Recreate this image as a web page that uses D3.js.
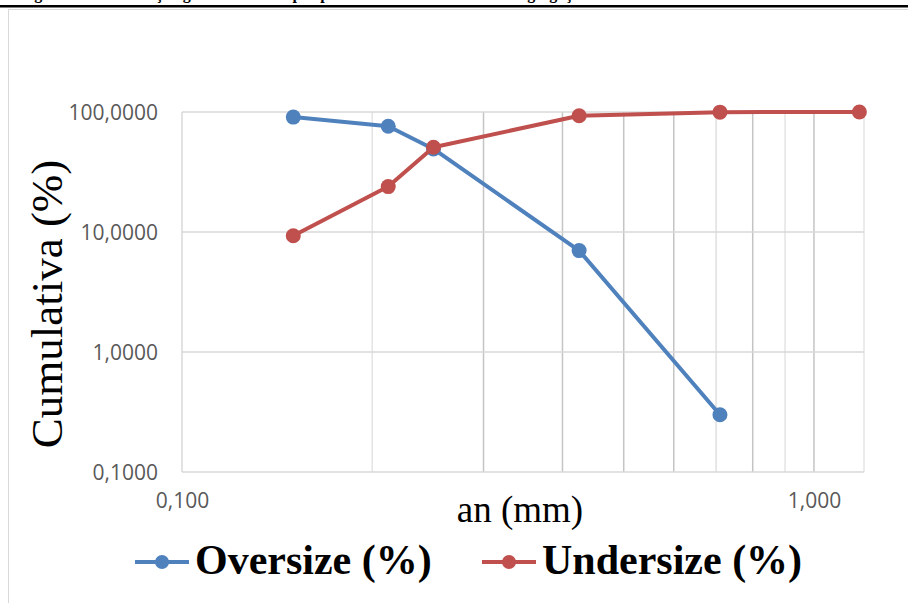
<!DOCTYPE html>
<html>
<head>
<meta charset="utf-8">
<style>
  html, body { margin: 0; padding: 0; background: #fff; }
  svg { display: block; }
  .tick text { font-family: "Open Sans", sans-serif; font-size: 21px; fill: #595959; }
</style>
</head>
<body>
<div id="chart"></div>
<script src="https://cdn.jsdelivr.net/npm/d3@7/dist/d3.min.js"></script>
<script type="text/javascript">

    // sieve openings (mm)
    var sieves = [0.150, 0.212, 0.250, 0.425, 0.710, 1.180];
    // cumulative passing / retained (%)
    var oversize = [90.7, 76.1, 49.2, 7.0, 0.3];
    var undersize = [9.3, 23.9, 50.8, 93.0, 99.7, 100.0];
    var yTicks = [0.1, 1, 10, 100];
    var xTicks = [0.1, 1];
    var xMinor = [0.2, 0.3, 0.4, 0.5, 0.6, 0.7, 0.8, 0.9];
    var seriesNames = ["Oversize (%)", "Undersize (%)"];
    var colors = ["#4f81bd", "#c0504d"];

    var W = 908, H = 603;
    var plot = {left: 182, right: 864, top: 112, bottom: 472};

    var svg = d3.select("#chart").append("svg")
        .attr("width", W)
        .attr("height", H);

    // caption of the page above, mostly cut off
    svg.append("text")
        .attr("x", 20)
        .attr("y", -1)
        .style("font-family", "Liberation Serif, serif")
        .style("font-weight", "bold")
        .style("font-size", "16px")
        .text("Figura 5 – Distribuição granulométrica por peneiramento da amostra de agregação");

    svg.append("line")
        .attr("x1", 0).attr("x2", W)
        .attr("y1", 6.2).attr("y2", 6.2)
        .attr("stroke", "#000").attr("stroke-width", 2.4);

    // chart frame
    svg.append("rect")
        .attr("x", 8.5).attr("y", 9.5)
        .attr("width", 1000).attr("height", 700)
        .attr("fill", "none").attr("stroke", "#d9d9d9").attr("stroke-width", 1);

    var x = d3.scaleLog().domain([0.1, 1.2]).range([plot.left, plot.right]);
    var y = d3.scaleLog().domain([0.1, 100]).range([plot.bottom, plot.top]);

    // vertical grid
    var gridColor = {0.2: "#e4e4e4", 0.7: "#e0e0e0", 0.9: "#e4e4e4"};
    svg.append("g").selectAll("line")
        .data(xMinor.concat([1]))
        .enter().append("line")
        .attr("x1", function(d) { return x(d); })
        .attr("x2", function(d) { return x(d); })
        .attr("y1", plot.top).attr("y2", plot.bottom)
        .attr("stroke", function(d) { return gridColor[d] || "#c4c4c4"; })
        .attr("stroke-width", 1.5);

    svg.append("line")
        .attr("x1", plot.right).attr("x2", plot.right)
        .attr("y1", plot.top).attr("y2", plot.bottom)
        .attr("stroke", "#e4e4e4").attr("stroke-width", 1.5);

    // horizontal grid
    svg.append("g").selectAll("line")
        .data(yTicks)
        .enter().append("line")
        .attr("x1", plot.left).attr("x2", plot.right)
        .attr("y1", function(d) { return y(d); })
        .attr("y2", function(d) { return y(d); })
        .attr("stroke", "#d9d9d9")
        .attr("stroke-width", 1.5);

    svg.append("line")
        .attr("x1", plot.left).attr("x2", plot.left)
        .attr("y1", plot.top).attr("y2", plot.bottom)
        .attr("stroke", "#d9d9d9").attr("stroke-width", 1.5);

    var fmt4 = function(d) { return d3.format(".4f")(d).replace(".", ","); };
    var fmt3 = function(d) { return d3.format(".3f")(d).replace(".", ","); };

    // y axis labels
    var yAxis = svg.append("g")
        .attr("transform", "translate(" + plot.left + ",0)")
        .call(d3.axisLeft(y).tickValues(yTicks).tickFormat(fmt4).tickSize(0).tickPadding(24));
    yAxis.select(".domain").remove();
    yAxis.selectAll("text").attr("dy", "0.36em");

    // x axis labels
    var xAxis = svg.append("g")
        .attr("transform", "translate(0," + plot.bottom + ")")
        .call(d3.axisBottom(x).tickValues(xTicks).tickFormat(fmt3).tickSize(0).tickPadding(21));
    xAxis.select(".domain").remove();
    xAxis.selectAll("text").attr("x", 0);

    // axis titles
    svg.append("text")
        .attr("transform", "translate(62,304) rotate(-90)")
        .attr("text-anchor", "middle")
        .style("font-family", "Liberation Serif, serif")
        .style("font-size", "45px")
        .text("Cumulativa (%)");

    svg.append("text")
        .attr("x", 520).attr("y", 522)
        .attr("text-anchor", "middle")
        .style("font-family", "Liberation Serif, serif")
        .style("font-size", "37px")
        .text("an (mm)");

    // series
    var series = [oversize, undersize];
    var line = d3.line()
        .x(function(d) { return x(d[0]); })
        .y(function(d) { return y(d[1]); });

    series.forEach(function(vals, i) {
        var pts = vals.map(function(v, j) { return [sieves[j], v]; });
        svg.append("path")
            .datum(pts)
            .attr("d", line)
            .attr("fill", "none")
            .attr("stroke", colors[i])
            .attr("stroke-width", 4)
            .attr("stroke-linejoin", "round");
        svg.append("g").selectAll("circle")
            .data(pts)
            .enter().append("circle")
            .attr("cx", function(d) { return x(d[0]); })
            .attr("cy", function(d) { return y(d[1]); })
            .attr("r", 7.5)
            .attr("fill", colors[i]);
    });

    // legend
    var legendX = [135, 482];
    seriesNames.forEach(function(name, i) {
        var g = svg.append("g").attr("transform", "translate(" + legendX[i] + ",562)");
        g.append("line")
            .attr("x1", 0).attr("x2", 54)
            .attr("stroke", colors[i]).attr("stroke-width", 4);
        g.append("circle")
            .attr("cx", 27).attr("r", 7)
            .attr("fill", colors[i]);
        g.append("text")
            .attr("x", 60).attr("y", 12)
            .style("font-family", "Liberation Serif, serif")
            .style("font-weight", "bold")
            .style("font-size", "42px")
            .text(name);
    });

</script>
</body>
</html>
